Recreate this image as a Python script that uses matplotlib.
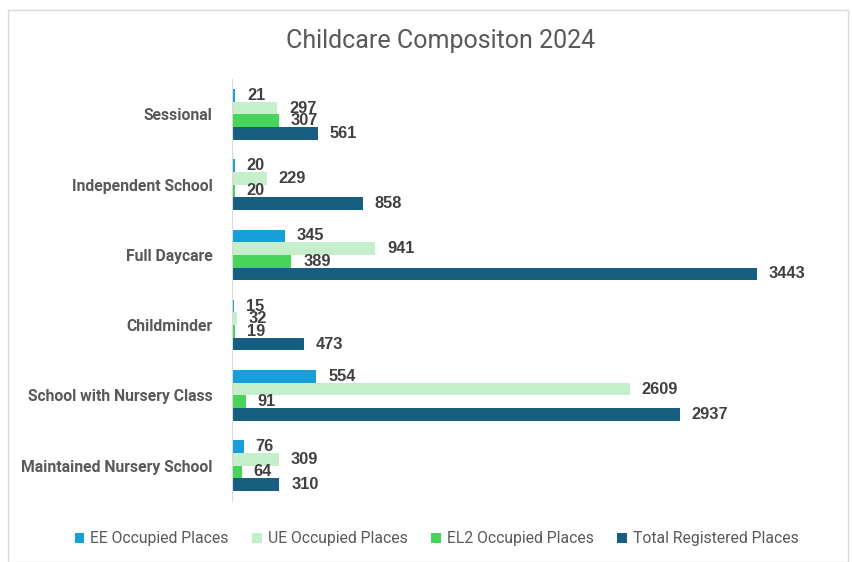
import matplotlib
matplotlib.use("Agg")
import matplotlib.pyplot as plt
import numpy as np
from matplotlib.patches import Rectangle

categories = [
    "Sessional",
    "Independent School",
    "Full Daycare",
    "Childminder",
    "School with Nursery Class",
    "Maintained Nursery School",
]
series_names = [
    "EE Occupied Places",
    "UE Occupied Places",
    "EL2 Occupied Places",
    "Total Registered Places",
]
ee_places = [21, 20, 345, 15, 554, 76]
ue_places = [297, 229, 941, 32, 2609, 309]
el2_places = [307, 20, 389, 19, 91, 64]
total_places = [561, 858, 3443, 473, 2937, 310]

colors = ["#169fd9", "#c5efcb", "#48d35a", "#175f81"]
text_grey = "#595959"

plt.rcParams["font.family"] = ["Roboto", "DejaVu Sans"]

fig = plt.figure(figsize=(8.53, 5.62), dpi=100)
ax = fig.add_axes([0.272, 0.109, 0.715, 0.750])

fig.patches.append(Rectangle((8 / 853, 0.0), 840 / 853, 552 / 562, transform=fig.transFigure,
                             fill=False, edgecolor="#d9d9d9", linewidth=1.0))

y = np.arange(len(categories))
bar_h = 0.18
all_values = [ee_places, ue_places, el2_places, total_places]
for i, (name, vals, col) in enumerate(zip(series_names, all_values, colors)):
    pos = y + (i - 1.5) * bar_h
    bars = ax.barh(pos, vals, height=bar_h, color=col, label=name)
    for b, v in zip(bars, vals):
        ax.annotate(str(v), (b.get_width(), b.get_y() + b.get_height() / 2),
                    xytext=(8.5, 0), textcoords="offset points", va="center", ha="left",
                    fontsize=11.8, fontweight="bold", color="#404040",
                    family=["Liberation Sans", "DejaVu Sans"])

ax.set_xlim(0, 4000)
ax.set_ylim(len(categories) - 0.5, -0.5)
ax.set_yticks(y)
ax.set_yticklabels(categories, fontsize=11.3, fontweight="bold", color=text_grey)
ax.tick_params(axis="y", length=0, pad=14)
ax.set_xticks([])
for side in ["top", "right", "bottom"]:
    ax.spines[side].set_visible(False)
ax.spines["left"].set_color("#d9d9d9")

fig.text(0.517, 0.927, "Childcare Compositon 2024", ha="center", va="center",
         fontsize=18, color=text_grey)

fig.legend(loc="center", bbox_to_anchor=(0.512, 0.041), ncol=4, frameon=False,
           fontsize=11.3, labelcolor=text_grey, handlelength=0.6, handleheight=0.6,
           handletextpad=0.4, columnspacing=1.5)

fig.savefig("out.png", dpi=100)
